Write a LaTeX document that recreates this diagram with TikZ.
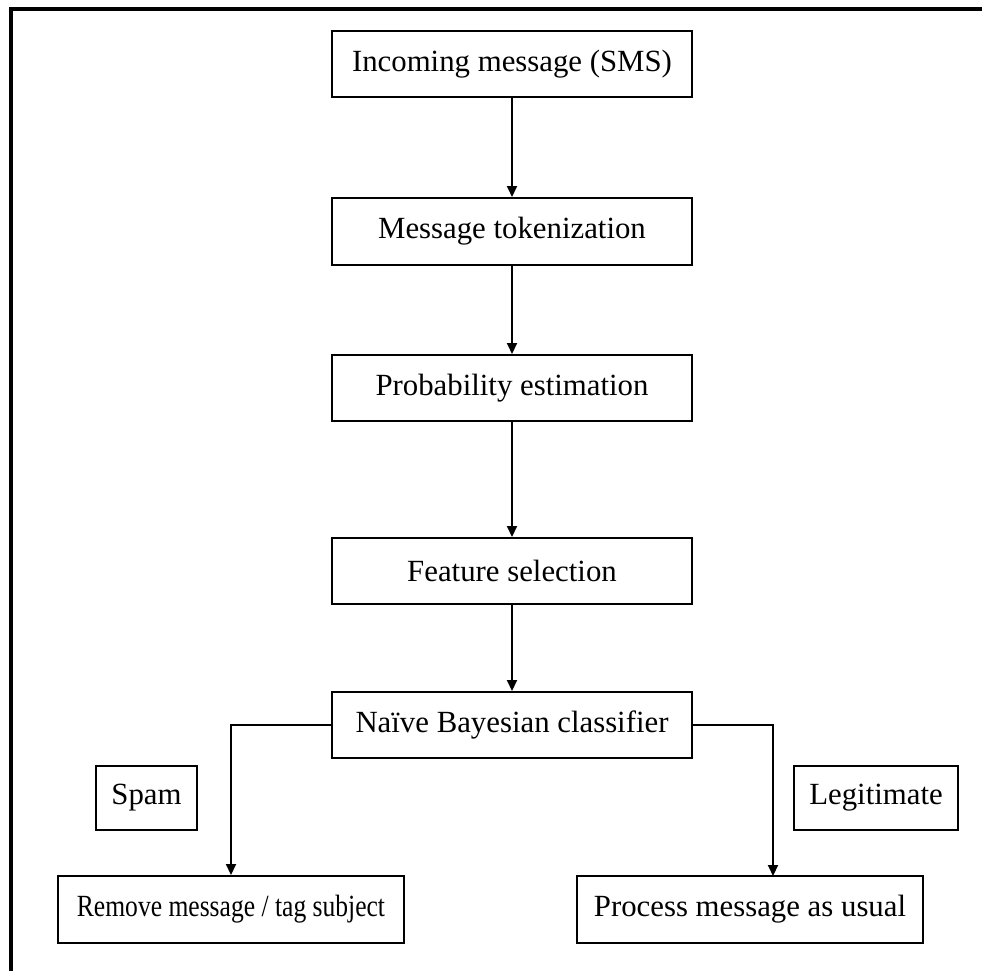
\documentclass[tikz,border=0pt]{standalone}
\usepackage{fontspec}
\usepackage{graphicx}
\setmainfont{Liberation Serif}
\usetikzlibrary{arrows.meta}
\begin{document}
\begin{tikzpicture}[x=1pt,y=-1pt,
  stagebox/.style={draw, line width=2pt, inner sep=0pt, align=center,
    font=\fontsize{30.8}{36}\selectfont},
  flow/.style={line width=2pt, -{Triangle[length=11pt,width=10pt]}}]
\useasboundingbox (0,0) rectangle (982,971);
% outer frame (left and top edges)
\draw[line width=4pt] (11,971) -- (11,9) -- (982,9);
% processing stages
\node[stagebox, minimum width=360pt, minimum height=66pt] (inc) at (512,64) {Incoming message (SMS)};
\node[stagebox, minimum width=360pt, minimum height=67pt] (tok) at (512,231.5) {Message tokenization};
\node[stagebox, minimum width=360pt, minimum height=66pt] (prob) at (512,388) {Probability estimation};
\node[stagebox, minimum width=360pt, minimum height=66pt] (feat) at (512,571) {Feature selection};
\node[stagebox, minimum width=360pt, minimum height=66pt] (nb) at (512,725) {Naïve Bayesian classifier};
% outcome labels
\node[stagebox, minimum width=101pt, minimum height=64pt] (spam) at (146.5,798) {Spam};
\node[stagebox, minimum width=164pt, minimum height=64pt] (legit) at (876,798) {Legitimate};
% actions (the long label is set condensed to fit its box)
\node[stagebox, minimum width=346pt, minimum height=67pt] (rem) at (231,909.5) {\scalebox{0.83}[1]{Remove message / tag subject}};
\node[stagebox, minimum width=346pt, minimum height=67pt] (proc) at (750,909.5) {Process message as usual};
\coordinate (procin) at (773,876);
% connectors
\draw[flow] (inc) -- (tok);
\draw[flow] (tok) -- (prob);
\draw[flow] (prob) -- (feat);
\draw[flow] (feat) -- (nb);
\draw[flow] (nb.west) -| (rem.north);
\draw[flow] (nb.east) -| (procin);
\end{tikzpicture}
\end{document}
